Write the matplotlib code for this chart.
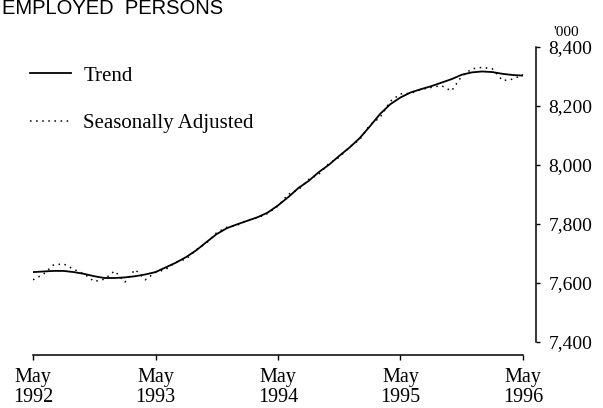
#!/usr/bin/env python3
# Employed persons: trend vs seasonally adjusted, May 1992 - May 1996

import matplotlib
matplotlib.use("Agg")
import matplotlib.pyplot as plt
from matplotlib.ticker import FuncFormatter

# Monthly values ('000), May 1992 .. May 1996 (49 months)
months = list(range(49))
trend = [7636, 7638, 7640, 7640, 7636, 7630, 7622, 7616, 7616, 7618,
         7622, 7628, 7636, 7652, 7668, 7687, 7710, 7738, 7765, 7785,
         7798, 7810, 7822, 7838, 7862, 7890, 7921, 7945, 7975, 8000,
         8030, 8058, 8090, 8130, 8172, 8205, 8228, 8245, 8256, 8266,
         8278, 8290, 8305, 8313, 8316, 8314, 8308, 8304, 8302]
seas_adj = [7610, 7628, 7660, 7664, 7645, 7630, 7604, 7612, 7640, 7602,
            7645, 7610, 7635, 7645, 7670, 7680, 7712, 7735, 7770, 7788,
            7795, 7812, 7820, 7835, 7860, 7900, 7915, 7950, 7968, 8005,
            8025, 8060, 8085, 8135, 8160, 8215, 8240, 8242, 8255, 8262,
            8268, 8250, 8300, 8325, 8330, 8325, 8285, 8290, 8305]

x_ticks = [0, 12, 24, 36, 48]
x_labels = ["May\n1992", "May\n1993", "May\n1994", "May\n1995", "May\n1996"]
y_ticks = [7400, 7600, 7800, 8000, 8200, 8400]

W, H = 603, 408
serif = "Liberation Serif"

fig = plt.figure(figsize=(W / 100, H / 100), dpi=100)
ax = fig.add_axes([33 / W, (H - 355) / H, (523 - 33) / W, (355 - 46.7) / H])

ax.plot(months, trend, color="black", lw=1.3, label="Trend")
ax.plot(months, seas_adj, color="black", lw=1.1, linestyle=(0, (1, 3)),
        label="Seasonally Adjusted")

ax.set_xlim(0, 48)
ax.set_ylim(7355, 8400)

# axes look
ax.spines["top"].set_visible(False)
ax.spines["left"].set_visible(False)
ax.spines["right"].set_position(("outward", 13 * 72 / 100))
ax.spines["right"].set_bounds(7400, 8400)
ax.spines["right"].set_linewidth(1.1)
ax.spines["bottom"].set_linewidth(1.1)

ax.yaxis.tick_right()
ax.set_yticks(y_ticks)
ax.yaxis.set_major_formatter(FuncFormatter(lambda v, p: f"{int(v):,}"))
ax.tick_params(axis="y", direction="out", length=3, width=1, pad=6,
               labelsize=14)
ax.set_xticks(x_ticks)
ax.set_xticklabels(x_labels, linespacing=1.05)
ax.tick_params(axis="x", direction="out", length=3.5, width=1, pad=6,
               labelsize=14.5)
for lab in ax.get_xticklabels() + ax.get_yticklabels():
    lab.set_family(serif)

# units label and title
fig.text(566 / W, 1 - 32 / H, "'000", family=serif, fontsize=11,
         ha="center", va="center")
fig.text(2 / W, 1 - 14 / H, "EMPLOYED  PERSONS", family="Liberation Sans",
         fontsize=14.5, ha="left", va="baseline")

leg = ax.legend(loc="upper left", bbox_to_anchor=(30 / W, 1 - 66 / H),
                bbox_transform=fig.transFigure, frameon=False,
                prop={"family": serif, "size": 15}, handlelength=1.97,
                handletextpad=0.58, labelspacing=1.35, borderpad=0,
                borderaxespad=0)

fig.savefig("out.png", dpi=100)
